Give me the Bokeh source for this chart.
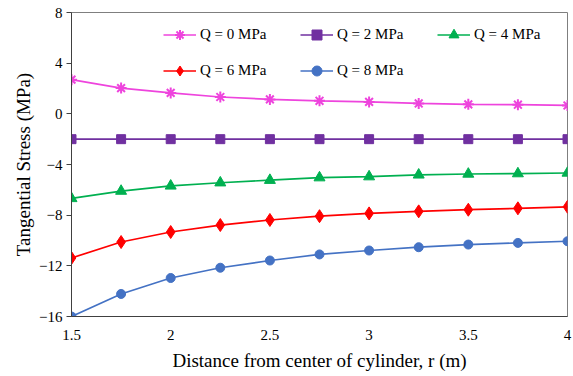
from bokeh.plotting import figure
from bokeh.models import Legend, LegendItem, Range1d, FixedTicker
from bokeh.embed import file_html
from bokeh.resources import INLINE

# Radial distance r (m)
r = [1.5, 1.75, 2.0, 2.25, 2.5, 2.75, 3.0, 3.25, 3.5, 3.75, 4.0]

# Tangential stress (MPa) for each internal pressure Q
q0 = [2.70, 2.03, 1.65, 1.33, 1.14, 1.03, 0.94, 0.82, 0.75, 0.72, 0.66]
q2 = [-2.0, -2.0, -2.0, -2.0, -2.0, -2.0, -2.0, -2.0, -2.0, -2.0, -2.0]
q4 = [-6.68, -6.10, -5.69, -5.44, -5.24, -5.04, -4.96, -4.82, -4.75, -4.72, -4.67]
q6 = [-11.38, -10.12, -9.33, -8.78, -8.38, -8.08, -7.86, -7.70, -7.57, -7.46, -7.34]
q8 = [-16.0, -14.22, -12.96, -12.15, -11.58, -11.10, -10.79, -10.53, -10.32, -10.19, -10.06]

labels = ["Q = 0 MPa", "Q = 2 MPa", "Q = 4 MPa", "Q = 6 MPa", "Q = 8 MPa"]
x_ticks = [1.5, 2, 2.5, 3, 3.5, 4]
y_ticks = [-16, -12, -8, -4, 0, 4, 8]

FONT = "'Liberation Serif', 'Times New Roman', serif"

p = figure(width=573, height=376, output_backend="svg", toolbar_location=None,
           x_range=Range1d(1.5, 4.0), y_range=Range1d(-16, 8),
           min_border_left=71, min_border_right=6, min_border_top=12,
           min_border_bottom=60)
p.background_fill_color = "white"
p.border_fill_color = "white"
p.outline_line_color = "#7f7f7f"
p.outline_line_width = 1
p.xgrid.visible = False
p.ygrid.visible = False

p.xaxis.ticker = FixedTicker(ticks=x_ticks)
p.yaxis.ticker = FixedTicker(ticks=y_ticks)
p.xaxis.major_label_overrides = {1.5: "1.5", 2: "2", 2.5: "2.5", 3: "3", 3.5: "3.5", 4: "4"}

for ax in (p.xaxis[0], p.yaxis[0]):
    ax.axis_line_color = "#404040"
    ax.axis_line_width = 1
    ax.minor_tick_line_color = None
    ax.major_label_text_font = FONT
    ax.major_label_text_font_size = "15px"
    ax.major_label_text_color = "#000000"
    ax.axis_label_text_font = FONT
    ax.axis_label_text_font_size = "19px"
    ax.axis_label_text_font_style = "normal"
    ax.axis_label_text_color = "#000000"

p.xaxis.major_tick_out = 0
p.xaxis.major_tick_in = 0
p.xaxis.major_label_standoff = 13
p.xaxis.axis_label = "Distance from center of cylinder, r (m)"
p.xaxis.axis_label_standoff = 7

p.yaxis.major_tick_out = 5
p.yaxis.major_tick_in = 0
p.yaxis.major_tick_line_color = "#404040"
p.yaxis.major_label_standoff = 4
p.yaxis.axis_label = "Tangential Stress (MPa)"
p.yaxis.axis_label_standoff = 2

series = [
    (q0, "#EE44DD", "asterisk", 11),
    (q2, "#7030A0", "square", 9),
    (q4, "#00B050", "triangle", 11),
    (q6, "#FF0000", "diamond", 13),
    (q8, "#4472C4", "circle", 9),
]

items = []
for (vals, color, marker, size), lab in zip(series, labels):
    ln = p.line(r, vals, line_color=color, line_width=1.7)
    if marker == "asterisk":
        mk = p.scatter(r, vals, marker=marker, size=size, line_color=color,
                       line_width=2)
    else:
        mk = p.scatter(r, vals, marker=marker, size=size, fill_color=color,
                       line_color=color)
    items.append(LegendItem(label=lab, renderers=[ln, mk]))

def make_legend(its, loc):
    lg = Legend(items=its, location=loc, orientation="vertical",
                label_text_font=FONT, label_text_font_size="15px",
                label_text_color="#000000",
                glyph_width=33, glyph_height=25, label_height=17,
                label_standoff=4, spacing=11, padding=0, margin=0,
                border_line_alpha=0, background_fill_alpha=0)
    p.add_layout(lg, "center")

# Three legend columns laid out as two rows inside the frame
make_legend([items[0], items[3]], (92, 233))
make_legend([items[1], items[4]], (229, 233))
make_legend([items[2]], (366, 269))

open("out.html", "w").write(file_html(p, INLINE))
